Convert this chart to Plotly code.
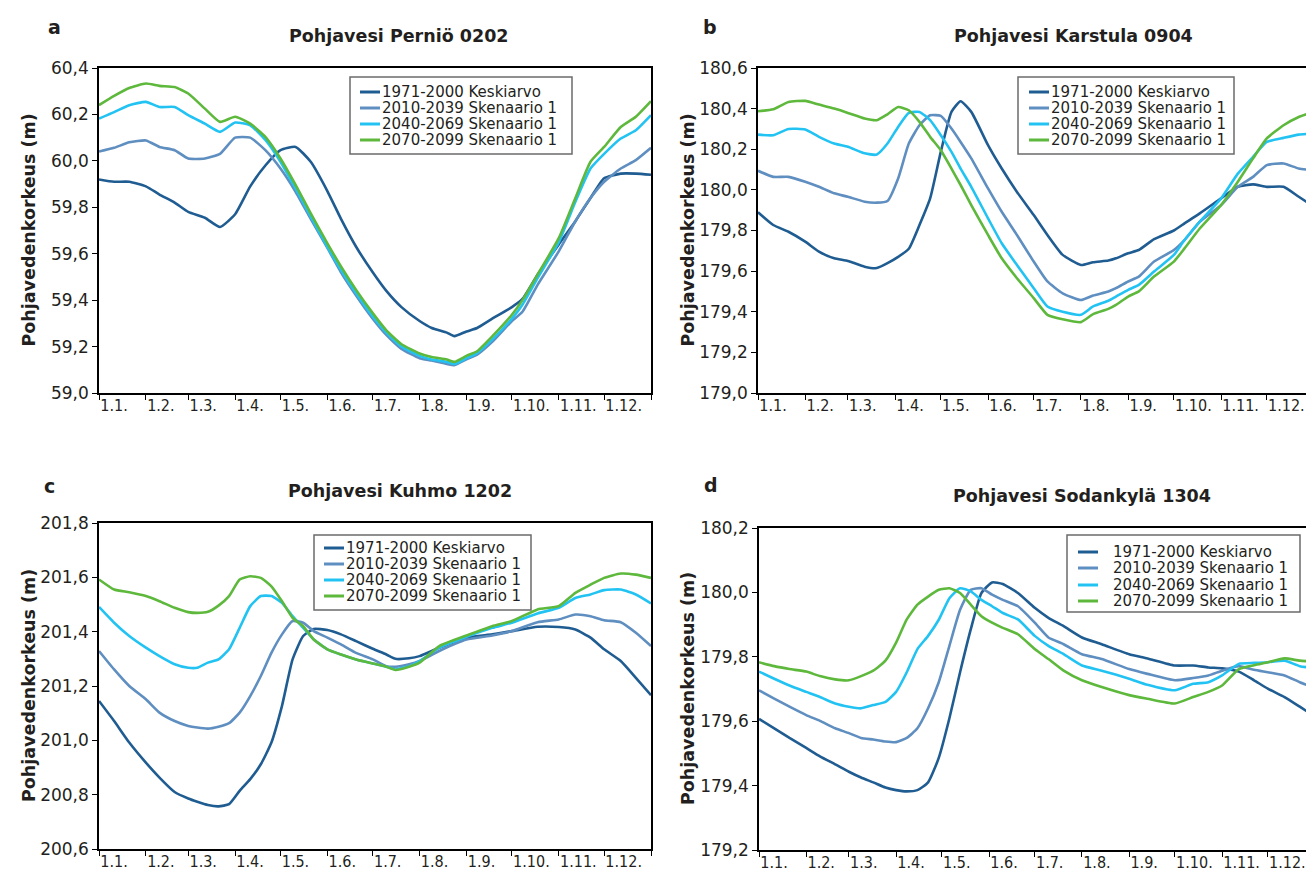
import plotly.graph_objects as go

W, H = 1314, 873

# x positions are day-of-year (0 = 1.1.)
month_ticks = [0, 31, 59, 90, 120, 151, 181, 212, 243, 273, 304, 334, 365]
month_labels = ["1.1.", "1.2.", "1.3.", "1.4.", "1.5.", "1.6.", "1.7.", "1.8.",
                "1.9.", "1.10.", "1.11.", "1.12.", ""]

series_names = ["1971-2000 Keskiarvo", "2010-2039 Skenaario 1",
                "2040-2069 Skenaario 1", "2070-2099 Skenaario 1"]
series_colors = ["#1f5c91", "#5f8ec0", "#22c3f2", "#5db83c"]

# --- a: Perniö 0202 ---
days_a = [0, 10, 20, 31, 40, 50, 59, 70, 80, 90, 100, 110, 120, 130, 140, 151, 160, 170, 181,
          190, 200, 212, 220, 230, 235, 243, 250, 260, 273, 280, 290, 304, 315, 325, 334, 345,
          355, 365]
pernio_1971 = [59.92, 59.91, 59.91, 59.89, 59.855, 59.82, 59.78, 59.755, 59.715, 59.77, 59.89,
               59.98, 60.046, 60.06, 59.996, 59.87, 59.75, 59.63, 59.52, 59.44, 59.37, 59.31,
               59.28, 59.26, 59.245, 59.265, 59.28, 59.32, 59.37, 59.405, 59.51, 59.64, 59.74,
               59.84, 59.925, 59.945, 59.945, 59.94]
pernio_2010 = [60.04, 60.056, 60.08, 60.088, 60.06, 60.046, 60.01, 60.01, 60.03, 60.1, 60.1,
               60.046, 59.967, 59.867, 59.75, 59.625, 59.52, 59.42, 59.32, 59.25, 59.19, 59.15,
               59.14, 59.125, 59.12, 59.145, 59.165, 59.22, 59.31, 59.35, 59.466, 59.61, 59.74,
               59.84, 59.91, 59.967, 60.003, 60.056]
pernio_2040 = [60.182, 60.21, 60.24, 60.254, 60.232, 60.232, 60.197, 60.16, 60.125, 60.165,
               60.153, 60.09, 59.996, 59.88, 59.76, 59.63, 59.53, 59.43, 59.33, 59.26, 59.2,
               59.16, 59.144, 59.134, 59.125, 59.15, 59.172, 59.23, 59.32, 59.38, 59.495, 59.65,
               59.824, 59.967, 60.03, 60.096, 60.132, 60.197]
pernio_2070 = [60.24, 60.28, 60.314, 60.333, 60.323, 60.318, 60.29, 60.225, 60.168, 60.19,
               60.16, 60.103, 60.01, 59.896, 59.774, 59.645, 59.545, 59.444, 59.344, 59.27,
               59.21, 59.17, 59.155, 59.144, 59.134, 59.16, 59.18, 59.244, 59.337, 59.4, 59.51,
               59.667, 59.84, 59.996, 60.06, 60.146, 60.19, 60.257]

# --- b: Karstula 0904 ---
days_b = [0, 10, 20, 31, 40, 50, 59, 70, 78, 85, 92, 99, 106, 113, 120, 127, 133, 140, 151,
          160, 170, 181, 190, 200, 212, 220, 230, 235, 243, 250, 260, 273, 280, 290, 304, 315,
          325, 334, 345, 355, 365]
karstula_1971 = [179.89, 179.827, 179.794, 179.745, 179.696, 179.663, 179.65, 179.622, 179.615,
                 179.639, 179.67, 179.71, 179.827, 179.958, 180.187, 180.384, 180.436, 180.384,
                 180.22, 180.105, 179.99, 179.876, 179.778, 179.68, 179.63, 179.644, 179.652,
                 179.663, 179.688, 179.704, 179.757, 179.8, 179.835, 179.884, 179.958, 180.015,
                 180.027, 180.015, 180.015, 179.966, 179.917]
karstula_2010 = [180.094, 180.064, 180.064, 180.04, 180.015, 179.983, 179.966, 179.942, 179.937,
                 179.945, 180.056, 180.228, 180.318, 180.367, 180.364, 180.302, 180.236, 180.155,
                 180.007, 179.892, 179.778, 179.647, 179.549, 179.491, 179.458, 179.48, 179.5,
                 179.516, 179.549, 179.573, 179.647, 179.704, 179.753, 179.843, 179.925,
                 180.015, 180.064, 180.122, 180.13, 180.105, 180.097]
karstula_2040 = [180.272, 180.269, 180.3, 180.297, 180.261, 180.228, 180.212, 180.18, 180.174,
                 180.228, 180.31, 180.379, 180.384, 180.343, 180.269, 180.187, 180.105, 180.015,
                 179.86, 179.737, 179.63, 179.516, 179.426, 179.4, 179.385, 179.426, 179.454,
                 179.475, 179.508, 179.532, 179.598, 179.68, 179.753, 179.843, 179.958, 180.08,
                 180.163, 180.236, 180.256, 180.272, 180.277]
karstula_2070 = [180.387, 180.397, 180.433, 180.438, 180.42, 180.4, 180.379, 180.351, 180.343,
                 180.372, 180.408, 180.392, 180.335, 180.261, 180.195, 180.105, 180.024, 179.925,
                 179.778, 179.663, 179.565, 179.467, 179.385, 179.363, 179.349, 179.388, 179.414,
                 179.434, 179.475, 179.5, 179.573, 179.647, 179.712, 179.81, 179.925, 180.04,
                 180.155, 180.253, 180.318, 180.359, 180.384]

# --- c: Kuhmo 1202 ---
days_c = [0, 10, 20, 31, 40, 50, 59, 65, 72, 79, 86, 93, 100, 107, 114, 121, 128, 135, 142,
          151, 160, 170, 181, 190, 196, 205, 212, 225, 243, 260, 273, 290, 304, 315, 325, 334,
          345, 355, 365]
kuhmo_1971 = [201.145, 201.071, 200.992, 200.918, 200.863, 200.81, 200.786, 200.774, 200.762,
              200.757, 200.765, 200.814, 200.857, 200.912, 200.992, 201.127, 201.298, 201.384,
              201.41, 201.406, 201.39, 201.365, 201.337, 201.316, 201.3, 201.302, 201.31,
              201.341, 201.378, 201.39, 201.402, 201.418, 201.417, 201.408, 201.378, 201.335,
              201.292, 201.23, 201.166]
kuhmo_2010 = [201.329, 201.261, 201.2, 201.151, 201.102, 201.071, 201.053, 201.047, 201.043,
              201.05, 201.063, 201.102, 201.163, 201.237, 201.322, 201.39, 201.439, 201.433,
              201.402, 201.378, 201.353, 201.322, 201.298, 201.273, 201.271, 201.28, 201.292,
              201.329, 201.371, 201.386, 201.402, 201.435, 201.445, 201.463, 201.457, 201.442,
              201.435, 201.396, 201.347]
kuhmo_2040 = [201.491, 201.433, 201.384, 201.341, 201.31, 201.28, 201.267, 201.267, 201.286,
              201.298, 201.335, 201.414, 201.494, 201.531, 201.531, 201.506, 201.457, 201.414,
              201.371, 201.335, 201.316, 201.298, 201.283, 201.271, 201.261, 201.273, 201.292,
              201.341, 201.381, 201.414, 201.433, 201.467, 201.488, 201.524, 201.537, 201.553,
              201.555, 201.537, 201.504]
kuhmo_2070 = [201.592, 201.555, 201.545, 201.531, 201.512, 201.488, 201.472, 201.469, 201.473,
              201.496, 201.531, 201.592, 201.604, 201.598, 201.567, 201.512, 201.451, 201.42,
              201.371, 201.335, 201.316, 201.298, 201.283, 201.271, 201.259, 201.271, 201.286,
              201.347, 201.386, 201.42, 201.439, 201.482, 201.494, 201.543, 201.573, 201.598,
              201.614, 201.61, 201.598]

# --- d: Sodankylä 1304 ---
days_d = [0, 10, 20, 31, 40, 50, 59, 67, 75, 83, 90, 97, 104, 111, 118, 125, 132, 139, 146,
          153, 160, 170, 181, 190, 200, 212, 225, 243, 255, 273, 285, 295, 304, 315, 325, 334,
          345, 355, 365]
sodankyla_1971 = [179.607, 179.578, 179.548, 179.517, 179.491, 179.466, 179.443, 179.425,
                  179.41, 179.394, 179.386, 179.382, 179.386, 179.41, 179.486, 179.609, 179.752,
                  179.885, 179.998, 180.031, 180.026, 179.998, 179.952, 179.921, 179.895,
                  179.86, 179.839, 179.808, 179.795, 179.773, 179.773, 179.767, 179.764,
                  179.754, 179.727, 179.701, 179.675, 179.645, 179.614]
sodankyla_2010 = [179.696, 179.67, 179.645, 179.619, 179.601, 179.578, 179.563, 179.548,
                  179.543, 179.537, 179.535, 179.548, 179.578, 179.64, 179.721, 179.834,
                  179.946, 180.008, 180.013, 179.993, 179.977, 179.957, 179.906, 179.86,
                  179.839, 179.808, 179.793, 179.762, 179.747, 179.727, 179.734, 179.742,
                  179.757, 179.771, 179.76, 179.752, 179.742, 179.721, 179.703]
sodankyla_2040 = [179.754, 179.732, 179.711, 179.691, 179.675, 179.655, 179.645, 179.64,
                  179.65, 179.66, 179.691, 179.752, 179.824, 179.865, 179.915, 179.982,
                  180.013, 180.003, 179.977, 179.957, 179.936, 179.916, 179.865, 179.834,
                  179.808, 179.773, 179.757, 179.732, 179.713, 179.696, 179.716, 179.721,
                  179.742, 179.778, 179.781, 179.783, 179.788, 179.771, 179.764]
sodankyla_2070 = [179.783, 179.771, 179.762, 179.754, 179.74, 179.73, 179.727, 179.74, 179.757,
                  179.788, 179.844, 179.916, 179.962, 179.987, 180.008, 180.013, 179.998,
                  179.962, 179.926, 179.906, 179.89, 179.87, 179.824, 179.793, 179.757,
                  179.727, 179.706, 179.681, 179.67, 179.655, 179.675, 179.691, 179.711,
                  179.762, 179.774, 179.783, 179.795, 179.788, 179.785]

yticks_a = [59.0, 59.2, 59.4, 59.6, 59.8, 60.0, 60.2, 60.4]
yticks_b = [179.0, 179.2, 179.4, 179.6, 179.8, 180.0, 180.2, 180.4, 180.6]
yticks_c = [200.6, 200.8, 201.0, 201.2, 201.4, 201.6, 201.8]
yticks_d = [179.2, 179.4, 179.6, 179.8, 180.0, 180.2]

# panel geometry in pixels: plot box (x0, x1, y0, y1), legend box, title, letter
panels = [
    dict(days=days_a, data=[pernio_1971, pernio_2010, pernio_2040, pernio_2070],
         yticks=yticks_a, title="Pohjavesi Perniö 0202", letter="a",
         box=(91, 643, 60, 385), title_xy=(391, 28), letter_xy=(38, 19), ytitle_x=21,
         leg=dict(box=(342, 564, 69, 146), key=(352, 372), text_x=373,
                  rows=[84, 100, 116, 132])),
    dict(days=days_b, data=[karstula_1971, karstula_2010, karstula_2040, karstula_2070],
         yticks=yticks_b, title="Pohjavesi Karstula 0904", letter="b",
         box=(750, 1306, 60, 385), title_xy=(1065, 28), letter_xy=(693, 19), ytitle_x=680,
         leg=dict(box=(1010, 1226, 69, 146), key=(1021, 1041), text_x=1042,
                  rows=[84, 100, 116, 132])),
    dict(days=days_c, data=[kuhmo_1971, kuhmo_2010, kuhmo_2040, kuhmo_2070],
         yticks=yticks_c, title="Pohjavesi Kuhmo 1202", letter="c",
         box=(91, 643, 515, 841), title_xy=(392, 483), letter_xy=(34, 478), ytitle_x=21,
         leg=dict(box=(306, 523, 527, 602), key=(316, 336), text_x=337,
                  rows=[540, 556, 572, 588])),
    dict(days=days_d, data=[sodankyla_1971, sodankyla_2010, sodankyla_2040, sodankyla_2070],
         yticks=yticks_d, title="Pohjavesi Sodankylä 1304", letter="d",
         box=(751, 1307, 520, 842), title_xy=(1074, 488), letter_xy=(694, 477), ytitle_x=680,
         leg=dict(box=(1059, 1292, 527, 604), key=(1070, 1090), text_x=1104,
                  rows=[544, 560, 577, 593])),
]

FONT = "'DejaVu Sans', sans-serif"
XFONT = "'Liberation Sans Narrow', 'DejaVu Sans Condensed', 'DejaVu Sans', sans-serif"
TXT = "#231f20"


def px(x):
    return x / W


def py(y):
    return 1 - y / H


fig = go.Figure()
annotations = []
shapes = []

for i, p in enumerate(panels):
    n = "" if i == 0 else str(i + 1)
    for name, color, vals in zip(series_names, series_colors, p["data"]):
        fig.add_trace(go.Scatter(x=p["days"], y=vals, mode="lines", name=name, showlegend=False,
                                 line=dict(color=color, width=2.6, shape="spline", smoothing=0.5),
                                 xaxis="x" + n, yaxis="y" + n))

    x0, x1, y0, y1 = p["box"]
    fig.layout["xaxis" + n] = dict(
        domain=[px(x0), px(x1)], anchor="y" + n, range=[0, 365], automargin=False,
        tickvals=month_ticks, ticktext=month_labels, ticks="outside", ticklen=5,
        tickcolor="black", showline=True, linecolor="black", linewidth=1.5, mirror=True,
        showgrid=False, zeroline=False, ticklabelposition="outside right", tickangle=0,
        ticklabelstandoff=-3, tickfont=dict(size=16, color=TXT, family=XFONT))
    fig.layout["yaxis" + n] = dict(
        domain=[py(y1), py(y0)], anchor="x" + n, range=[p["yticks"][0], p["yticks"][-1]],
        automargin=False,
        tickvals=p["yticks"], ticktext=[f"{v:.1f}".replace(".", ",") for v in p["yticks"]],
        ticks="outside", ticklen=5, tickcolor="black", showline=True, linecolor="black",
        linewidth=1.5, mirror=True, showgrid=False, zeroline=False,
        tickfont=dict(size=17, color=TXT, family=FONT))

    # y-axis title
    annotations.append(dict(text="<b>Pohjavedenkorkeus (m)</b>", textangle=-90,
                            x=px(p["ytitle_x"]), y=py((y0 + y1) / 2), xref="paper",
                            yref="paper", showarrow=False, xanchor="center", yanchor="middle",
                            font=dict(size=17.5, color=TXT, family=FONT)))
    # panel title and letter
    annotations.append(dict(text="<b>" + p["title"] + "</b>", x=px(p["title_xy"][0]),
                            y=py(p["title_xy"][1]), xref="paper", yref="paper",
                            showarrow=False, xanchor="center", yanchor="middle",
                            font=dict(size=17.5, color=TXT, family=FONT)))
    annotations.append(dict(text="<b>" + p["letter"] + "</b>", x=px(p["letter_xy"][0]),
                            y=py(p["letter_xy"][1]), xref="paper", yref="paper",
                            showarrow=False, xanchor="left", yanchor="middle",
                            font=dict(size=19, color=TXT, family=FONT)))

    # legend box
    lg = p["leg"]
    bx0, bx1, by0, by1 = lg["box"]
    shapes.append(dict(type="rect", xref="paper", yref="paper", x0=px(bx0), x1=px(bx1),
                       y0=py(by1), y1=py(by0), line=dict(color="#6b6b6b", width=1.5),
                       fillcolor="white", layer="above"))
    for name, color, ry in zip(series_names, series_colors, lg["rows"]):
        shapes.append(dict(type="line", xref="paper", yref="paper", x0=px(lg["key"][0]),
                           x1=px(lg["key"][1]), y0=py(ry), y1=py(ry),
                           line=dict(color=color, width=3), layer="above"))
        annotations.append(dict(text=name, x=px(lg["text_x"]), y=py(ry), xref="paper",
                                yref="paper", showarrow=False, xanchor="left",
                                yanchor="middle", borderpad=0, height=16, valign="middle",
                                font=dict(size=15, color=TXT, family=FONT)))

fig.update_layout(width=W, height=H, margin=dict(l=0, r=0, t=0, b=0),
                  paper_bgcolor="white", plot_bgcolor="white", annotations=annotations,
                  shapes=shapes, showlegend=False, font=dict(family=FONT, color=TXT))

fig.write_html("out.html")
